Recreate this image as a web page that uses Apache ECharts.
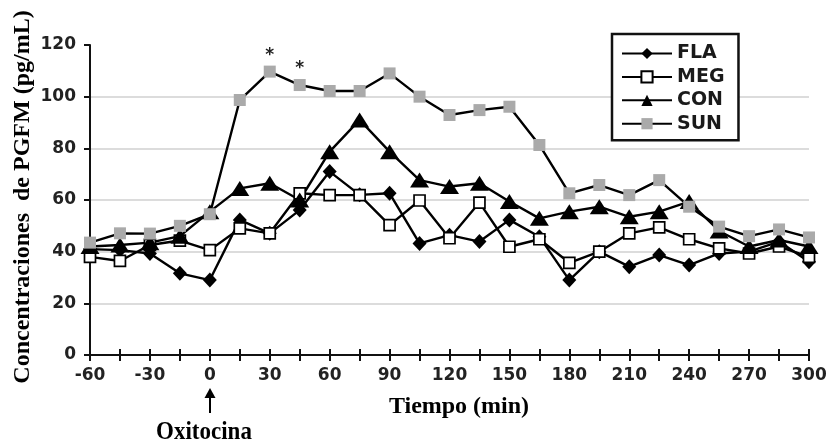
<!DOCTYPE html>
<html>
<head>
<meta charset="utf-8">
<script src="https://cdn.jsdelivr.net/npm/echarts@6/dist/echarts.min.js"></script>
<style>
  html, body { margin: 0; padding: 0; background: #ffffff; }
  #chart { width: 832px; height: 446px; }
</style>
</head>
<body>
<div id="chart"></div>
<script>
// Sampling times (min) relative to oxytocin injection
const time = [-60, -45, -30, -15, 0, 15, 30, 45, 60, 75, 90, 105, 120, 135, 150, 165, 180, 195, 210, 225, 240, 255, 270, 285, 300];

// PGFM concentrations (pg/mL) per group
const FLA = [41, 40.6, 39.3, 31.6, 29, 52.3, 47.1, 56.1, 71, 62, 62.6, 43.2, 46.4, 43.9, 52.3, 45.8, 29, 40, 34.2, 38.7, 34.8, 39.3, 40, 43.9, 36.1];
const MEG = [38, 36.4, 42.6, 44.3, 40.6, 49, 47.1, 62.6, 61.9, 61.9, 50.3, 59.8, 45.2, 59, 41.9, 44.8, 35.7, 40, 47.1, 49.4, 44.8, 41.3, 39.3, 42, 38];
const CON = [42, 42.6, 43.5, 46, 55.5, 64.5, 66.5, 60, 78.7, 91, 78.7, 67.7, 65.2, 66.5, 59.4, 52.9, 55.5, 57.4, 53.5, 55.5, 59.4, 48, 42, 44.5, 42];
const SUN = [43.5, 47.1, 47, 50, 54.5, 98.7, 109.7, 104.5, 102.2, 102.2, 109, 100, 92.9, 94.8, 96.1, 81.3, 62.6, 65.8, 61.9, 67.7, 57.4, 49.7, 46, 48.6, 45.5];

// Times flagged with a significance asterisk on the SUN curve
const significant = [30, 45];

const seriesNames = ['FLA', 'MEG', 'CON', 'SUN'];

const sans = '"DejaVu Sans", sans-serif';
const serif = '"Liberation Serif", "Times New Roman", serif';

function pairs(values, name) {
  return time.map((t, i) => {
    const item = { value: [t, values[i]] };
    if (name === 'SUN' && significant.includes(t)) {
      item.label = {
        show: true, formatter: '*', position: 'top', distance: 2,
        fontFamily: sans, fontSize: 17, fontWeight: 'bold', color: '#222'
      };
    }
    return item;
  });
}

const markerStyles = {
  FLA: { symbol: 'diamond', symbolSize: [14, 15], itemStyle: { color: '#000', borderColor: '#000', borderWidth: 0 } },
  MEG: { symbol: 'rect', symbolSize: 11, itemStyle: { color: '#fff', borderColor: '#000', borderWidth: 1.7 } },
  CON: { symbol: 'triangle', symbolSize: [19, 15], itemStyle: { color: '#000', borderColor: '#000', borderWidth: 0 } },
  SUN: { symbol: 'rect', symbolSize: 12, itemStyle: { color: '#aaaaaa', borderColor: '#aaaaaa', borderWidth: 0 } }
};

const dataByName = { FLA, MEG, CON, SUN };

const chart = echarts.init(document.getElementById('chart'), null, { renderer: 'canvas' });

const option = {
  animation: false,
  backgroundColor: '#ffffff',
  grid: { left: 90, right: 23, top: 45, bottom: 91, containLabel: false },
  legend: {
    orient: 'vertical',
    left: 612,
    top: 34,
    data: seriesNames,
    itemWidth: 50,
    itemHeight: 14,
    itemGap: 4.4,
    padding: [10, 14, 7, 9],
    borderColor: '#111',
    borderWidth: 2.5,
    backgroundColor: '#fff',
    textStyle: { fontFamily: sans, fontSize: 19, fontWeight: 'bold', color: '#1a1a1a', lineHeight: 14 }
  },
  xAxis: [
    {
      type: 'value', min: -60, max: 300, interval: 15,
      axisLine: { show: true, onZero: false, lineStyle: { color: '#111', width: 2 } },
      axisTick: { show: true, inside: false, length: 6, lineStyle: { color: '#111', width: 2 } },
      axisLabel: {
        margin: 12, fontFamily: sans, fontSize: 17, fontWeight: 'bold', color: '#222',
        formatter: v => (v % 30 === 0 ? String(v) : '')
      },
      splitLine: { show: false }
    },
    {
      // inner half of the crossing ticks
      type: 'value', min: -60, max: 300, interval: 15, position: 'bottom',
      axisLine: { show: false, onZero: false },
      axisTick: { show: true, inside: true, length: 6, lineStyle: { color: '#111', width: 2 } },
      axisLabel: { show: false },
      splitLine: { show: false }
    }
  ],
  yAxis: {
    type: 'value', min: 0, max: 120, interval: 20,
    axisLine: { show: true, onZero: false, lineStyle: { color: '#111', width: 2 } },
    axisTick: { show: true, length: 6, lineStyle: { color: '#111', width: 2 } },
    axisLabel: { margin: 14, fontFamily: sans, fontSize: 17, fontWeight: 'bold', color: '#222' },
    splitLine: {
      show: true,
      lineStyle: {
        width: 2,
        color: ['transparent', '#dcdcdc', '#dcdcdc', '#dcdcdc', '#dcdcdc', '#dcdcdc', 'transparent']
      }
    }
  },
  series: seriesNames.map(name => Object.assign({
    name,
    type: 'line',
    xAxisIndex: 0,
    data: pairs(dataByName[name], name),
    showAllSymbols: true,
    lineStyle: { color: '#000', width: 2.4 },
    emphasis: { disabled: true }
  }, markerStyles[name])),
  graphic: [
    {
      type: 'text', rotation: Math.PI / 2,
      x: 23, y: 197,
      style: {
        text: 'Concentraciones  de PGFM (pg/mL)',
        fontFamily: serif, fontSize: 24, fontWeight: 'bold', fill: '#000',
        textAlign: 'center', textVerticalAlign: 'middle'
      }
    },
    {
      type: 'text', x: 459, y: 407,
      style: {
        text: 'Tiempo (min)', fontFamily: serif, fontSize: 24, fontWeight: 'bold', fill: '#000',
        textAlign: 'center', textVerticalAlign: 'middle'
      }
    },
    {
      type: 'text', x: 204, y: 432, scaleY: 1.1,
      style: {
        text: 'Oxitocina', fontFamily: serif, fontSize: 23, fontWeight: 'bold', fill: '#000',
        textAlign: 'center', textVerticalAlign: 'middle'
      }
    },
    {
      type: 'line',
      shape: { x1: 210, y1: 395, x2: 210, y2: 413 },
      style: { stroke: '#000', lineWidth: 2 }
    },
    {
      type: 'polygon',
      shape: { points: [[210, 388], [204.5, 398], [215.5, 398]] },
      style: { fill: '#000' }
    }
  ]
};

chart.setOption(option);
</script>
</body>
</html>
